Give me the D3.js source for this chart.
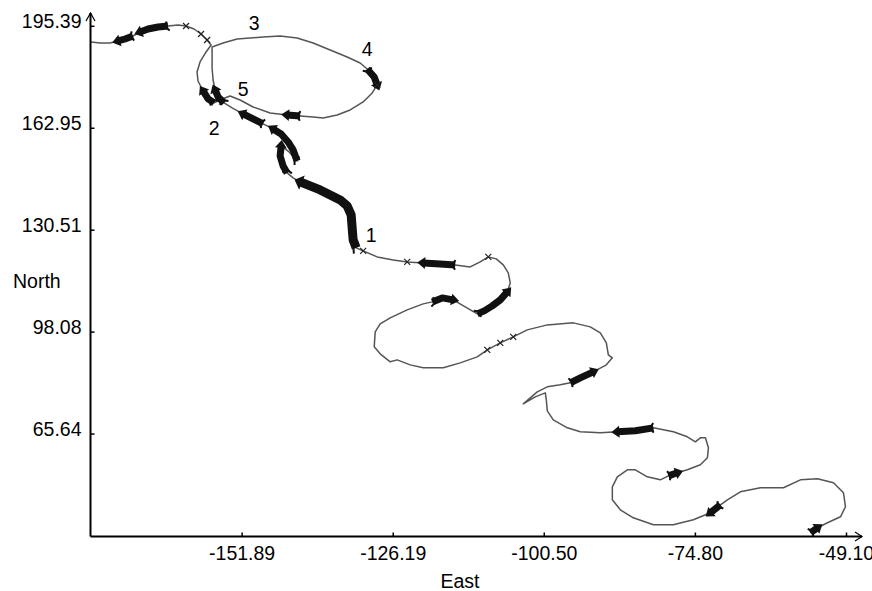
<!DOCTYPE html>
<html>
<head>
<meta charset="utf-8">
<script src="https://cdn.jsdelivr.net/npm/d3@7"></script>
<style>
body { margin: 0; background: #fff; }
svg { display: block; font-family: "Liberation Sans", Arial, sans-serif; }
</style>
</head>
<body>
<svg id="chart" width="872" height="591"></svg>
<script>
const eastTicks = [-151.89, -126.19, -100.50, -74.80, -49.10];
const northTicks = [195.39, 162.95, 130.51, 98.08, 65.64];
const eastRange = [-177.59, -49.10];
const northRange = [33.20, 195.39];

// track as [east, north]
const track = [
  [-177.50,190.24],[-175.97,189.92],[-174.27,189.92],[-172.91,190.56],[-171.72,191.19],
  [-170.36,192.15],[-169.17,193.42],[-167.80,194.37],[-166.10,195.01],[-164.40,195.33],
  [-162.70,195.64],[-161.34,195.33],[-159.98,194.37],[-158.79,192.78],[-157.76,190.87],
  [-157.08,189.28],[-157.93,187.06],[-158.96,183.88],[-159.47,180.70],[-159.30,177.83],
  [-158.44,174.65],[-157.59,172.11],[-156.57,170.84],[-155.21,172.11],[-153.85,173.06],
  [-152.15,171.79],[-149.94,169.56],[-147.04,167.65],[-144.15,167.02],[-141.94,166.70],
  [-139.73,166.38],[-138.02,166.06],[-135.64,167.02],[-133.43,168.61],[-131.22,171.15],
  [-129.68,174.02],[-128.83,176.56],[-129.34,179.11],[-130.53,181.65],[-131.73,183.56],
  [-133.94,185.47],[-136.83,187.69],[-139.73,189.92],[-142.45,191.51],[-145.34,192.15],
  [-148.23,191.83],[-150.45,191.51],[-152.66,191.19],[-155.04,189.92],[-156.91,188.65],
  [-156.91,185.47],[-156.91,181.97],[-156.74,178.15],[-156.40,174.97],[-155.89,172.74],
  [-154.87,170.84],[-153.51,169.25],[-151.64,167.34],[-149.94,165.75],[-148.23,164.16],
  [-146.53,162.57],[-145.17,160.98],[-143.98,158.43],[-143.13,155.89],[-142.45,152.39],
  [-143.81,155.25],[-145.17,157.16],[-145.34,153.98],[-144.83,150.80],[-144.15,148.57],
  [-143.13,146.98],[-141.94,145.71],[-140.24,144.44],[-138.53,143.16],[-136.83,141.57],
  [-135.13,139.98],[-133.94,138.07],[-133.26,135.21],[-133.09,131.08],[-132.92,127.26],
  [-132.41,124.72],[-131.22,123.76],[-128.83,121.85],[-126.11,120.90],[-123.73,120.26],
  [-121.01,119.94],[-118.11,119.63],[-115.56,119.31],[-113.01,118.67],[-111.31,120.26],
  [-109.94,121.85],[-108.58,121.22],[-107.39,119.31],[-106.54,116.76],[-106.20,113.58],
  [-106.71,110.72],[-107.90,108.18],[-109.26,106.27],[-110.62,104.68],[-111.81,103.72],
  [-113.86,105.95],[-115.90,108.18],[-117.77,108.81],[-119.47,107.54],[-121.01,106.90],
  [-123.73,104.99],[-126.62,102.45],[-128.32,100.54],[-129.17,98.00],[-129.34,93.23],
  [-128.32,91.00],[-126.62,88.46],[-125.43,89.09],[-123.22,87.50],[-121.01,86.55],
  [-117.60,86.55],[-114.71,88.14],[-111.81,90.05],[-110.11,92.27],[-107.90,94.50],
  [-105.69,96.41],[-103.31,98.63],[-99.90,100.22],[-95.48,100.86],[-92.59,99.59],
  [-90.89,97.68],[-89.86,94.50],[-89.52,90.68],[-88.84,89.73],[-89.86,87.50],
  [-92.08,85.27],[-94.29,83.37],[-95.99,81.78],[-97.69,81.14],[-99.90,80.50],
  [-101.61,78.91],[-103.99,75.10],[-101.95,77.32],[-100.24,78.60],[-100.07,76.37],
  [-99.90,72.87],[-98.88,70.01],[-96.50,67.46],[-94.29,66.19],[-90.89,65.87],
  [-87.99,66.19],[-84.93,66.51],[-81.86,67.46],[-78.46,66.19],[-76.08,64.60],
  [-74.72,63.01],[-73.87,64.28],[-73.01,64.28],[-72.50,61.10],[-72.67,57.92],
  [-73.87,55.69],[-76.08,54.10],[-77.78,53.15],[-79.31,52.19],[-80.67,50.92],
  [-82.89,51.88],[-84.93,54.10],[-86.29,54.10],[-87.99,51.88],[-88.84,48.70],
  [-88.84,44.56],[-87.48,41.38],[-85.27,38.84],[-81.86,36.61],[-78.46,36.61],
  [-75.06,38.20],[-72.16,40.43],[-70.46,42.97],[-69.27,44.56],[-67.06,47.11],
  [-63.66,48.38],[-59.74,48.38],[-56.85,50.92],[-53.95,51.24],[-51.23,49.97],
  [-49.53,46.79],[-49.19,42.34],[-50.04,39.15],[-52.25,37.25],[-53.95,35.66],
  [-55.15,34.07]
];

// stretches of the track drawn as heavy arrows (index ranges)
const heavyRuns = [[3,5],[6,9],[20,22],[53,55],[28,29],[36,38],[57,59],[60,64],[66,69],
  [71,80],[85,87],[95,99],[101,103],[130,132],[145,147],[157,158],[171,172],[184,185]];
// small cross marks on the track
const crossIdx = [11, 13, 14, 36, 81, 84, 90, 118, 119, 120];

const pointLabels = ["1", "2", "3", "4", "5"];
const labelEast = [-129.85, -156.57, -149.77, -130.54, -151.64];
const labelNorth = [128.85, 162.88, 196.28, 188.01, 175.29];

const svg = d3.select("#chart");
const x = d3.scaleLinear().domain(eastRange).range([90.5, 846]);
const y = d3.scaleLinear().domain(northRange).range([535.5, 25.8]);
const fontSize = "19.5px";
const fmt = d => d.toFixed(2);   // plain hyphen minus, like the original

const line = d3.line().x(d => x(d[0])).y(d => y(d[1]));

// track
svg.append("path")
  .attr("d", line(track))
  .attr("fill", "none")
  .attr("stroke", "#555")
  .attr("stroke-width", 1.5)
  .attr("stroke-linejoin", "round");

// heavy arrows
const gHeavy = svg.append("g");
heavyRuns.forEach(r => {
  const seg = track.slice(r[0], r[1] + 1);
  const w = (r[1] - r[0]) > 4 ? 9 : 7;
  gHeavy.append("path")
    .attr("d", line(seg))
    .attr("fill", "none")
    .attr("stroke", "#111")
    .attr("stroke-width", w)
    .attr("stroke-linejoin", "round");
  // head at r[0], pointing toward decreasing index
  const a = [x(track[r[0]][0]), y(track[r[0]][1])];
  const b = [x(track[r[0] + 1][0]), y(track[r[0] + 1][1])];
  let dx = a[0] - b[0], dy = a[1] - b[1];
  const len = Math.hypot(dx, dy) || 1;
  dx /= len; dy /= len;
  const nx = -dy, ny = dx;
  const hw = w * 0.85;
  gHeavy.append("path")
    .attr("d", `M${a[0] + dx * 6},${a[1] + dy * 6}L${a[0] - dx * 2 + nx * hw},${a[1] - dy * 2 + ny * hw}L${a[0] - dx * 2 - nx * hw},${a[1] - dy * 2 - ny * hw}Z`)
    .attr("fill", "#111");
  // tail fins at r[1]
  const e = [x(track[r[1]][0]), y(track[r[1]][1])];
  gHeavy.append("path")
    .attr("d", `M${e[0] + nx * hw * 0.8},${e[1] + ny * hw * 0.8}L${e[0] + dx * 3},${e[1] + dy * 3}L${e[0] - nx * hw * 0.8},${e[1] - ny * hw * 0.8}`)
    .attr("fill", "none")
    .attr("stroke", "#111")
    .attr("stroke-width", 2);
});

// crosses
svg.append("g").selectAll("path")
  .data(crossIdx)
  .enter().append("path")
  .attr("d", i => {
    const cx = x(track[i][0]), cy = y(track[i][1]);
    return `M${cx - 3},${cy - 3}L${cx + 3},${cy + 3}M${cx - 3},${cy + 3}L${cx + 3},${cy - 3}`;
  })
  .attr("stroke", "#222")
  .attr("stroke-width", 1.2);

// axes
const xAxis = svg.append("g")
  .attr("transform", "translate(0,536.5)")
  .call(d3.axisBottom(x).tickValues(eastTicks).tickSize(-4).tickSizeOuter(0)
    .tickPadding(10).tickFormat(fmt));
const yAxis = svg.append("g")
  .attr("transform", "translate(90.5,0)")
  .call(d3.axisLeft(y).tickValues(northTicks).tickSize(-4).tickSizeOuter(0)
    .tickPadding(9).tickFormat(fmt));
[xAxis, yAxis].forEach(g => {
  g.select(".domain").remove();
  g.selectAll(".tick line").attr("stroke", "#000").attr("stroke-width", 1.5);
  g.selectAll("text").attr("fill", "#000").style("font-size", fontSize)
    .style("font-family", '"Liberation Sans", Arial, sans-serif');
});
yAxis.selectAll("text").attr("dy", "0.1em");

svg.append("path")
  .attr("d", `M90.5,536.5H862M90.5,536.5V13`)
  .attr("stroke", "#000").attr("stroke-width", 2).attr("fill", "none");
svg.append("path")
  .attr("d", `M86,21L90.5,13L95,21M855,532L862,536.5L855,541`)
  .attr("stroke", "#000").attr("stroke-width", 1.2).attr("fill", "none");

svg.append("text").text("North")
  .attr("x", 13).attr("y", 288)
  .style("font-size", fontSize);
svg.append("text").text("East")
  .attr("x", 460).attr("y", 588)
  .attr("text-anchor", "middle")
  .style("font-size", fontSize);

// point labels
svg.append("g").selectAll("text")
  .data(pointLabels)
  .enter().append("text")
  .text(d => d)
  .attr("x", (d, i) => x(labelEast[i]))
  .attr("y", (d, i) => y(labelNorth[i]))
  .attr("dy", "0.35em")
  .attr("text-anchor", "middle")
  .style("font-size", fontSize);
</script>
</body>
</html>
